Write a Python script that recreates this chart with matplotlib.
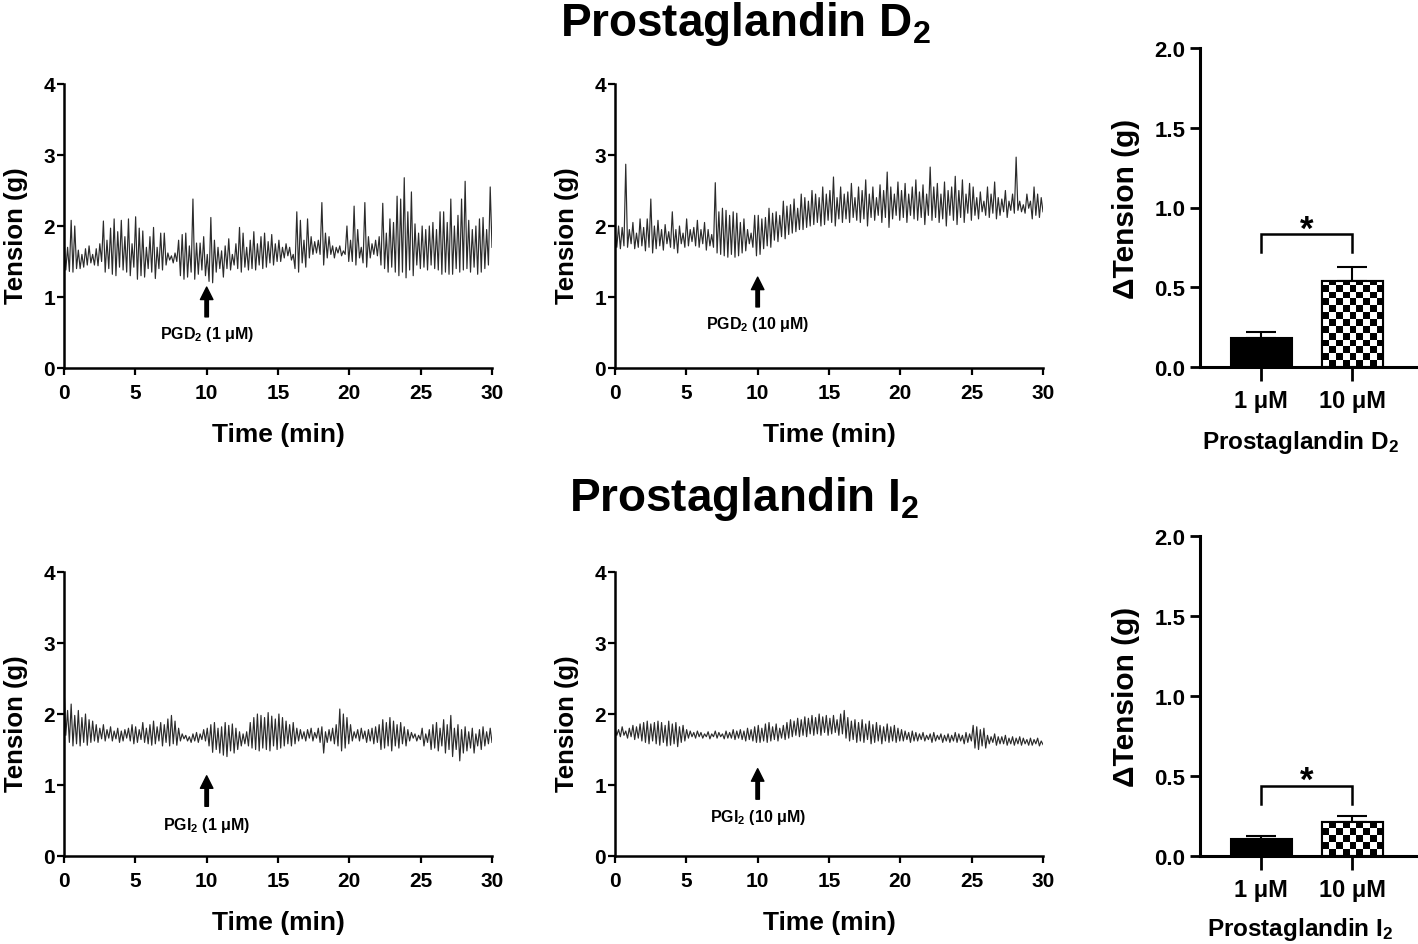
import numpy as np
import matplotlib
matplotlib.use("Agg")
import matplotlib.pyplot as plt

plt.rcParams['font.family'] = ['Liberation Sans', 'DejaVu Sans']
plt.rcParams['font.weight'] = 'bold'
plt.rcParams['mathtext.fontset'] = 'custom'
plt.rcParams['mathtext.rm'] = 'Liberation Sans:bold'
plt.rcParams['mathtext.bf'] = 'Liberation Sans:bold'
plt.rcParams['mathtext.it'] = 'Liberation Sans:bold'

# ---------------- data: tension traces (g), alternating peak/trough samples over 0-30 min ----------------
pgd2_1uM = [
    1.82, 1.38, 1.70, 1.36, 2.08, 1.35, 2.00, 1.40,
    1.66, 1.40, 1.60, 1.42, 1.68, 1.45, 1.72, 1.48,
    1.60, 1.45, 1.68, 1.44, 1.75, 1.50, 2.07, 1.35,
    1.80, 1.40, 1.97, 1.32, 2.10, 1.30, 1.92, 1.42,
    2.08, 1.38, 1.85, 1.35, 2.10, 1.30, 1.75, 1.42,
    2.13, 1.25, 1.97, 1.30, 1.93, 1.28, 1.70, 1.40,
    1.85, 1.35, 1.98, 1.26, 1.70, 1.40, 1.90, 1.38,
    1.90, 1.45, 1.62, 1.52, 1.58, 1.48, 1.62, 1.50,
    1.80, 1.30, 1.88, 1.25, 1.90, 1.28, 1.72, 1.35,
    2.38, 1.25, 1.76, 1.32, 1.76, 1.38, 1.85, 1.30,
    1.60, 1.22, 2.12, 1.20, 1.80, 1.35, 1.70, 1.40,
    1.65, 1.28, 1.72, 1.40, 1.82, 1.38, 1.60, 1.45,
    1.75, 1.40, 1.98, 1.35, 1.90, 1.42, 1.70, 1.38,
    1.80, 1.40, 1.92, 1.38, 1.75, 1.45, 1.85, 1.40,
    1.90, 1.42, 1.78, 1.48, 1.88, 1.45, 1.75, 1.50,
    1.80, 1.50, 1.70, 1.55, 1.75, 1.58, 1.70, 1.52,
    1.60, 1.40, 2.20, 1.35, 2.08, 1.48, 1.80, 1.42,
    2.10, 1.55, 1.85, 1.60, 1.78, 1.62, 1.80, 1.60,
    2.33, 1.45, 1.90, 1.55, 1.85, 1.60, 1.72, 1.55,
    1.70, 1.62, 1.72, 1.58, 1.65, 1.60, 2.00, 1.50,
    1.80, 1.50, 2.28, 1.45, 1.95, 1.55, 1.70, 1.48,
    2.33, 1.42, 1.85, 1.55, 1.75, 1.60, 1.80, 1.58,
    1.85, 1.45, 2.32, 1.40, 1.90, 1.35, 2.10, 1.42,
    2.05, 1.35, 2.42, 1.30, 2.38, 1.35, 2.68, 1.27,
    2.20, 1.38, 2.48, 1.30, 2.03, 1.45, 1.90, 1.40,
    2.00, 1.42, 1.95, 1.38, 2.00, 1.45, 2.05, 1.40,
    1.95, 1.38, 2.20, 1.32, 2.20, 1.35, 2.05, 1.32,
    2.38, 1.32, 2.00, 1.40, 2.15, 1.35, 2.38, 1.38,
    2.63, 1.40, 2.08, 1.35, 1.95, 1.42, 2.00, 1.32,
    2.10, 1.35, 2.12, 1.40, 1.95, 1.45, 2.55, 1.70,
]
pgd2_10uM = [
    1.95, 1.70, 2.00, 1.68, 1.98, 1.72, 2.87, 1.70,
    1.95, 1.75, 2.05, 1.68, 1.90, 1.70, 2.10, 1.72,
    1.98, 1.65, 2.10, 1.70, 2.38, 1.62, 2.00, 1.68,
    2.08, 1.72, 1.95, 1.66, 2.02, 1.75, 1.92, 1.70,
    2.20, 1.68, 1.95, 1.62, 2.00, 1.75, 1.90, 1.70,
    2.10, 1.72, 1.95, 1.78, 1.98, 1.72, 2.08, 1.70,
    1.95, 1.75, 2.05, 1.66, 1.95, 1.72, 1.88, 1.70,
    2.61, 1.62, 2.20, 1.60, 2.25, 1.58, 2.22, 1.56,
    2.15, 1.60, 2.20, 1.56, 2.18, 1.58, 2.05, 1.62,
    2.10, 1.65, 1.95, 1.75, 1.90, 1.70, 2.15, 1.58,
    2.15, 1.60, 2.10, 1.68, 2.12, 1.72, 2.25, 1.70,
    2.18, 1.80, 2.20, 1.78, 2.15, 1.85, 2.35, 1.82,
    2.28, 1.88, 2.30, 1.90, 2.38, 1.92, 2.25, 1.95,
    2.45, 1.95, 2.40, 1.98, 2.35, 2.00, 2.50, 2.02,
    2.45, 2.05, 2.40, 2.00, 2.55, 2.02, 2.45, 2.08,
    2.50, 2.05, 2.69, 2.00, 2.40, 2.10, 2.55, 2.05,
    2.45, 2.10, 2.48, 2.05, 2.60, 2.12, 2.40, 2.08,
    2.55, 2.05, 2.50, 2.10, 2.65, 2.00, 2.45, 2.12,
    2.55, 2.08, 2.40, 2.15, 2.58, 2.05, 2.50, 2.12,
    2.76, 1.98, 2.55, 2.10, 2.45, 2.15, 2.62, 2.08,
    2.50, 2.12, 2.60, 2.05, 2.45, 2.15, 2.55, 2.10,
    2.65, 2.08, 2.48, 2.12, 2.58, 2.02, 2.45, 2.15,
    2.83, 2.08, 2.55, 2.12, 2.60, 2.05, 2.45, 2.10,
    2.62, 2.00, 2.50, 2.15, 2.55, 2.08, 2.70, 2.02,
    2.50, 2.12, 2.65, 2.05, 2.45, 2.18, 2.60, 2.08,
    2.55, 2.15, 2.40, 2.10, 2.48, 2.20, 2.35, 2.15,
    2.55, 2.12, 2.45, 2.18, 2.62, 2.10, 2.40, 2.15,
    2.38, 2.20, 2.50, 2.12, 2.35, 2.22, 2.45, 2.18,
    2.97, 2.22, 2.35, 2.20, 2.30, 2.18, 2.45, 2.25,
    2.35, 2.10, 2.55, 2.15, 2.45, 2.12, 2.40, 2.20,
]
pgi2_1uM = [
    2.40, 1.70, 2.05, 1.60, 2.14, 1.55, 1.98, 1.58,
    2.05, 1.55, 1.95, 1.60, 2.00, 1.56, 1.92, 1.60,
    1.90, 1.62, 1.85, 1.60, 1.80, 1.65, 1.85, 1.62,
    1.78, 1.66, 1.82, 1.62, 1.76, 1.65, 1.80, 1.60,
    1.76, 1.62, 1.78, 1.66, 1.80, 1.62, 1.85, 1.58,
    1.82, 1.60, 1.78, 1.64, 1.88, 1.60, 1.80, 1.58,
    1.85, 1.56, 1.90, 1.58, 1.82, 1.62, 1.88, 1.55,
    1.85, 1.60, 1.93, 1.55, 1.98, 1.58, 1.90, 1.56,
    1.80, 1.62, 1.72, 1.65, 1.70, 1.62, 1.68, 1.60,
    1.72, 1.62, 1.74, 1.60, 1.72, 1.64, 1.78, 1.62,
    1.80, 1.55, 1.85, 1.46, 1.88, 1.50, 1.80, 1.45,
    1.82, 1.42, 1.88, 1.40, 1.84, 1.48, 1.86, 1.45,
    1.80, 1.50, 1.75, 1.55, 1.72, 1.58, 1.75, 1.55,
    1.88, 1.52, 1.95, 1.50, 2.00, 1.48, 1.98, 1.52,
    1.95, 1.50, 2.02, 1.48, 1.97, 1.55, 1.93, 1.50,
    2.00, 1.52, 1.95, 1.55, 1.90, 1.58, 1.85, 1.55,
    1.88, 1.58, 1.80, 1.62, 1.78, 1.65, 1.75, 1.62,
    1.78, 1.66, 1.80, 1.62, 1.74, 1.66, 1.80, 1.60,
    1.82, 1.45, 1.75, 1.60, 1.78, 1.62, 1.80, 1.58,
    1.85, 1.55, 2.07, 1.48, 2.00, 1.52, 1.95, 1.58,
    1.85, 1.62, 1.75, 1.66, 1.78, 1.62, 1.80, 1.65,
    1.76, 1.60, 1.78, 1.62, 1.80, 1.58, 1.82, 1.60,
    1.85, 1.50, 1.92, 1.52, 1.88, 1.55, 1.95, 1.48,
    1.90, 1.55, 1.85, 1.52, 1.88, 1.58, 1.82, 1.55,
    1.78, 1.62, 1.74, 1.66, 1.72, 1.62, 1.70, 1.64,
    1.80, 1.55, 1.72, 1.60, 1.78, 1.50, 1.85, 1.52,
    1.88, 1.48, 1.80, 1.55, 1.92, 1.45, 1.85, 1.50,
    1.98, 1.40, 1.80, 1.50, 1.85, 1.34, 1.78, 1.45,
    1.82, 1.48, 1.75, 1.52, 1.80, 1.45, 1.72, 1.55,
    1.78, 1.50, 1.82, 1.55, 1.75, 1.58, 1.80, 1.60,
]
pgi2_10uM = [
    1.80, 1.70, 1.78, 1.68, 1.82, 1.70, 1.76, 1.66,
    1.80, 1.68, 1.84, 1.64, 1.82, 1.66, 1.86, 1.62,
    1.88, 1.60, 1.90, 1.58, 1.86, 1.62, 1.88, 1.58,
    1.90, 1.56, 1.88, 1.60, 1.84, 1.55, 1.90, 1.56,
    1.86, 1.58, 1.88, 1.54, 1.82, 1.60, 1.84, 1.62,
    1.78, 1.66, 1.76, 1.68, 1.74, 1.66, 1.76, 1.68,
    1.74, 1.66, 1.72, 1.68, 1.75, 1.65, 1.72, 1.68,
    1.76, 1.66, 1.74, 1.68, 1.72, 1.65, 1.76, 1.66,
    1.74, 1.66, 1.78, 1.64, 1.76, 1.66, 1.78, 1.64,
    1.76, 1.62, 1.80, 1.64, 1.78, 1.62, 1.82, 1.60,
    1.84, 1.60, 1.80, 1.62, 1.86, 1.60, 1.88, 1.62,
    1.82, 1.64, 1.86, 1.62, 1.80, 1.66, 1.84, 1.64,
    1.88, 1.66, 1.92, 1.68, 1.90, 1.70, 1.94, 1.68,
    1.92, 1.70, 1.96, 1.68, 1.94, 1.72, 1.98, 1.70,
    1.95, 1.72, 2.00, 1.70, 1.96, 1.74, 1.98, 1.70,
    1.94, 1.72, 1.98, 1.74, 1.92, 1.70, 2.00, 1.72,
    2.05, 1.66, 1.95, 1.62, 1.90, 1.64, 1.92, 1.60,
    1.88, 1.62, 1.92, 1.60, 1.86, 1.64, 1.90, 1.58,
    1.85, 1.60, 1.88, 1.62, 1.84, 1.58, 1.82, 1.62,
    1.86, 1.60, 1.82, 1.62, 1.84, 1.60, 1.80, 1.62,
    1.78, 1.62, 1.76, 1.64, 1.74, 1.60, 1.76, 1.62,
    1.74, 1.62, 1.72, 1.64, 1.74, 1.62, 1.70, 1.64,
    1.72, 1.60, 1.74, 1.62, 1.70, 1.64, 1.72, 1.60,
    1.70, 1.62, 1.72, 1.60, 1.70, 1.62, 1.74, 1.60,
    1.72, 1.62, 1.70, 1.58, 1.74, 1.60, 1.72, 1.62,
    1.84, 1.52, 1.82, 1.50, 1.78, 1.55, 1.80, 1.52,
    1.70, 1.58, 1.68, 1.60, 1.72, 1.56, 1.68, 1.58,
    1.68, 1.58, 1.70, 1.56, 1.66, 1.58, 1.68, 1.56,
    1.66, 1.58, 1.68, 1.56, 1.66, 1.58, 1.64, 1.56,
    1.66, 1.56, 1.64, 1.58, 1.66, 1.55, 1.62, 1.57,
]
trace_labels = [r'PGD$_2$ (1 μM)', r'PGD$_2$ (10 μM)', r'PGI$_2$ (1 μM)', r'PGI$_2$ (10 μM)']
time_ticks = [0, 5, 10, 15, 20, 25, 30]
tension_ticks = [0, 1, 2, 3, 4]
drug_time = 10

# ---------------- data: bar summaries ----------------
bar_categories = ['1 μM', '10 μM']
pgd2_delta = [0.18, 0.54]
pgd2_sem = [0.04, 0.09]
pgi2_delta = [0.105, 0.215]
pgi2_sem = [0.022, 0.035]
bar_yticks = [0.0, 0.5, 1.0, 1.5, 2.0]

W, H = 1418, 945
fig = plt.figure(figsize=(W / 100, H / 100), dpi=100)


def add_ax(l, t, r, b):
    return fig.add_axes([l / W, 1 - b / H, (r - l) / W, (b - t) / H])


def trace_panel(ax, vals, label, arrow_tip, arrow_tail, text_y):
    t = np.linspace(0, 30, len(vals))
    ax.plot(t, vals, color='#2b2b2b', lw=0.85)
    ax.set_xlim(0, 30)
    ax.set_ylim(0, 4)
    ax.set_xticks(time_ticks)
    ax.set_yticks(tension_ticks)
    for s in ['top', 'right']:
        ax.spines[s].set_visible(False)
    for s in ['left', 'bottom']:
        ax.spines[s].set_linewidth(1.8)
    ax.tick_params(direction='out', length=5, width=1.6, labelsize=15)
    ax.tick_params(axis='x', pad=6)
    ax.tick_params(axis='y', pad=1.5)
    for lab in ax.get_xticklabels() + ax.get_yticklabels():
        lab.set_fontweight('bold')
    ax.set_xlabel('Time (min)', fontsize=19, fontweight='bold')
    ax.set_ylabel('Tension (g)', fontsize=18.5, fontweight='bold')
    ax.xaxis.set_label_coords(0.5, -0.19)
    ax.yaxis.set_label_coords(-0.084, 0.47)
    ax.annotate('', xy=(drug_time, arrow_tip), xytext=(drug_time, arrow_tail),
                arrowprops=dict(facecolor='black', edgecolor='black', width=2.5,
                                headwidth=9, headlength=9, shrink=0))
    ax.text(drug_time, text_y, label, ha='center', va='center', fontsize=11.5, fontweight='bold')


def bar_panel(ax, vals, errs, xlabel, bracket_top, bracket_leg, star_y, xlab_y):
    x = np.arange(len(vals))
    w = 0.67
    ax.bar(x[0], vals[0], width=w, color='black', edgecolor='black', lw=1.5, zorder=2)
    bg = ax.bar(x[1], vals[1], width=w, color='white', edgecolor='black', lw=1.5, zorder=2)
    # checkerboard fill
    nrows, ncols = 47, 9
    board = np.add.outer(np.arange(nrows), np.arange(ncols)) % 2
    im = ax.imshow(board, cmap='gray_r', vmin=0, vmax=1, origin='lower', aspect='auto',
                   interpolation='nearest', extent=(x[1] - w / 2, x[1] + w / 2, 0, 2.0), zorder=2.5)
    im.set_clip_path(bg.patches[0])
    ax.bar(x[1], vals[1], width=w, facecolor='none', edgecolor='black', lw=1.5, zorder=3)
    ax.errorbar(x, vals, yerr=[np.zeros(len(vals)), errs], fmt='none', ecolor='black',
                elinewidth=1.5, capsize=11, capthick=1.5, zorder=1)
    ax.plot([x[0], x[0], x[1], x[1]], [bracket_leg, bracket_top, bracket_top, bracket_leg],
            color='black', lw=1.8, solid_joinstyle='miter')
    ax.text(0.5, star_y, '*', ha='center', va='center', fontsize=25, fontweight='bold')
    ax.set_xlim(-0.67, 1.7)
    ax.set_ylim(0, 2.0)
    ax.set_xticks(x)
    ax.set_xticklabels(bar_categories)
    ax.set_yticks(bar_yticks)
    ax.set_yticklabels([f'{v:.1f}' for v in bar_yticks])
    for s in ['top', 'right']:
        ax.spines[s].set_visible(False)
    for s in ['left', 'bottom']:
        ax.spines[s].set_linewidth(2.2)
    ax.tick_params(axis='y', direction='out', length=7, width=2, labelsize=16, pad=3.5)
    ax.tick_params(axis='x', direction='out', length=10, width=2, labelsize=17, pad=6)
    for lab in ax.get_xticklabels() + ax.get_yticklabels():
        lab.set_fontweight('bold')
    ax.set_ylabel('ΔTension (g)', fontsize=21.5, fontweight='bold')
    ax.set_xlabel(xlabel, fontsize=17.5, fontweight='bold')
    ax.yaxis.set_label_coords(-0.278, 0.5)
    ax.xaxis.set_label_coords(0.465, xlab_y)


ax1 = add_ax(64, 85, 492, 369)
ax2 = add_ax(615, 85, 1043, 369)
ax3 = add_ax(64, 573, 492, 857)
ax4 = add_ax(615, 573, 1043, 857)
ax5 = add_ax(1200, 49, 1416, 368)
ax6 = add_ax(1200, 537, 1416, 857)

trace_panel(ax1, pgd2_1uM, trace_labels[0], 1.14, 0.72, 0.48)
trace_panel(ax2, pgd2_10uM, trace_labels[1], 1.28, 0.86, 0.62)
trace_panel(ax3, pgi2_1uM, trace_labels[2], 1.13, 0.70, 0.45)
trace_panel(ax4, pgi2_10uM, trace_labels[3], 1.23, 0.80, 0.56)

bar_panel(ax5, pgd2_delta, pgd2_sem, r'Prostaglandin D$_2$', 0.834, 0.72, 0.86, -0.19)
bar_panel(ax6, pgi2_delta, pgi2_sem, r'Prostaglandin I$_2$', 0.44, 0.325, 0.47, -0.185)

fig.text(745 / W, 1 - 36 / H, r'Prostaglandin D$_2$', ha='center', va='baseline',
         fontsize=33, fontweight='bold')
fig.text(744 / W, 1 - 511 / H, r'Prostaglandin I$_2$', ha='center', va='baseline',
         fontsize=33, fontweight='bold')

fig.savefig('out.png', dpi=100)
